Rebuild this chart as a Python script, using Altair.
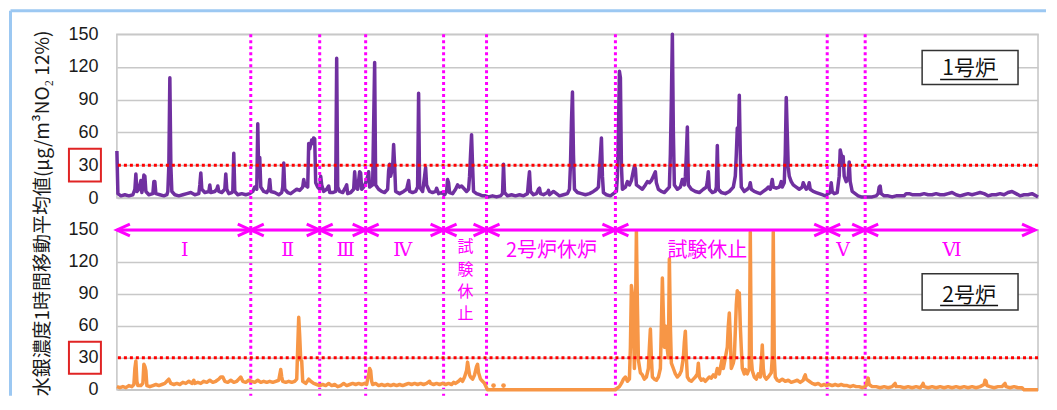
import altair as alt
import pandas as pd

# ---------------- data (time index t ~ day index, value in ug/m3N) ----------------
u1_points = [
    (0, 43), (1, 4), (4, 2), (8, 3), (12, 2), (16, 3), (18, 8), (19, 22), (20, 6), (22, 8), (24, 16), (25, 5),
    (26, 10), (27, 21), (28, 20), (29, 6), (32, 3), (36, 4), (37, 15), (38, 15), (39, 4), (43, 3), (47, 2),
    (50, 3), (51, 6), (52, 30), (53, 110), (54, 30), (55, 6), (58, 3), (62, 2), (66, 3), (70, 4), (74, 5),
    (78, 3), (82, 4), (83, 12), (84, 23), (85, 8), (88, 5), (92, 6), (93, 12), (94, 5), (98, 6), (100, 8),
    (101, 11), (102, 6), (105, 5), (108, 8), (109, 22), (110, 8), (112, 4), (115, 5), (116, 6), (117, 41),
    (118, 6), (121, 3), (125, 4), (129, 3), (133, 4),
    (136, 6), (138, 10), (140, 8), (141, 68), (142, 20), (143, 37), (144, 10), (147, 6), (150, 5), (152, 8),
    (153, 17), (154, 6), (158, 5), (162, 3), (165, 5), (166, 10), (167, 32), (168, 8), (171, 5), (174, 4),
    (177, 6), (180, 8), (183, 7), (186, 10), (187, 17), (188, 12), (191, 10), (192, 50), (193, 45), (195, 53),
    (196, 50), (197, 55), (198, 54), (199, 14), (201, 10), (203, 8),
    (204, 20), (205, 12), (207, 6), (210, 8), (212, 11), (213, 5), (216, 5), (219, 6), (220, 128), (221, 10),
    (223, 6), (226, 5), (229, 10), (230, 12), (231, 4), (234, 5), (237, 8), (238, 24), (239, 10), (241, 8),
    (243, 24), (244, 23), (245, 8), (247, 10), (249, 14),
    (251, 20), (252, 24), (253, 10), (256, 12), (258, 124), (259, 12), (262, 8), (265, 6), (268, 5), (271, 8),
    (272, 25), (273, 31), (274, 20), (276, 28), (277, 49), (278, 30), (279, 6), (283, 4), (287, 6), (290, 8),
    (292, 16), (293, 6), (296, 5), (299, 6), (301, 10), (302, 96), (303, 10), (306, 6), (308, 20), (309, 28),
    (310, 12), (313, 6), (316, 5), (319, 6), (320, 9), (322, 4), (325, 5),
    (328, 3), (330, 6), (331, 17), (332, 14), (333, 5), (336, 4), (339, 8), (341, 12), (343, 10), (345, 11),
    (348, 8), (350, 6), (352, 8), (353, 20), (354, 40), (355, 58), (356, 30), (357, 6), (360, 4), (363, 3),
    (366, 2), (369, 2),
    (372, 1), (376, 2), (380, 1), (384, 2), (386, 4), (387, 31), (388, 5), (391, 2), (395, 3), (399, 2),
    (403, 3), (407, 2), (411, 4), (412, 15), (413, 24), (414, 6), (417, 3), (420, 4), (422, 8), (423, 9),
    (424, 4), (427, 3), (431, 5), (432, 7), (433, 3), (437, 6), (440, 4), (443, 2), (447, 3), (451, 4),
    (453, 8), (454, 30), (455, 70), (456, 97), (457, 40), (458, 8), (461, 5), (465, 4), (469, 3), (473, 4),
    (477, 6), (480, 8), (482, 10), (483, 25), (484, 40), (485, 55), (486, 20), (487, 5), (490, 3), (494, 2),
    (497, 4),
    (500, 6), (501, 20), (502, 60), (503, 116), (504, 110), (505, 30), (506, 8), (509, 10), (511, 15),
    (513, 12), (515, 16), (517, 25), (518, 29), (519, 27), (520, 12), (523, 10), (526, 8), (529, 12),
    (531, 15), (533, 14), (535, 16), (537, 20), (539, 24), (540, 14), (542, 8), (545, 6), (548, 5), (551, 8),
    (553, 10), (554, 40), (555, 90), (556, 150), (557, 60), (558, 12), (561, 8), (564, 10), (566, 17),
    (568, 12), (569, 20), (570, 40), (571, 65), (572, 12), (575, 8), (579, 6), (583, 5), (587, 8), (590, 10),
    (591, 15), (592, 24), (593, 8), (596, 5), (599, 6), (600, 10), (601, 48), (602, 8), (605, 5), (609, 4),
    (613, 6), (617, 10), (619, 20), (620, 40), (621, 64), (622, 50), (623, 94), (624, 40), (625, 10),
    (628, 6), (631, 8), (633, 10), (634, 14), (635, 8), (638, 6), (641, 5), (644, 4), (647, 6), (650, 8),
    (652, 10), (654, 8), (655, 12), (656, 17), (657, 10), (660, 9), (663, 10), (664, 12), (665, 15),
    (666, 10), (668, 14), (669, 40), (670, 92), (671, 60), (672, 28), (673, 20), (675, 15), (677, 12),
    (680, 10), (683, 8), (686, 10), (687, 14), (688, 12), (690, 8), (692, 10), (693, 14), (694, 8), (697, 6),
    (700, 5), (703, 4), (706, 3), (709, 2),
    (712, 4), (714, 5), (715, 14), (716, 6), (718, 4), (721, 5), (723, 20), (724, 44), (725, 40), (726, 30),
    (727, 38), (728, 20), (730, 15), (732, 18), (733, 33), (734, 15), (736, 6), (739, 4), (742, 2), (745, 1),
    (748, 1),
    (752, 1), (756, 1), (760, 2), (762, 4), (763, 10), (764, 11), (765, 4), (768, 2), (772, 2), (776, 1),
    (780, 2), (784, 2), (788, 2), (790, 4), (793, 4), (796, 3), (800, 3), (804, 3), (808, 4), (812, 3),
    (816, 3), (820, 4), (824, 3), (828, 3), (832, 4), (836, 5), (840, 3), (844, 2), (848, 3), (852, 4),
    (856, 3), (860, 4), (864, 5), (868, 4), (872, 2), (876, 3), (880, 3), (884, 4), (888, 3), (892, 5),
    (896, 6), (900, 4), (904, 2), (908, 3), (912, 3), (916, 4), (920, 2), (922, 1),
]

u2_points = [
    (0, 3), (3, 2), (6, 3), (9, 2), (12, 4), (15, 3), (17, 5), (18, 20), (19, 27), (20, 8), (21, 4), (24, 4),
    (26, 6), (27, 24), (28, 22), (29, 18), (30, 4), (33, 3), (36, 4), (39, 5), (42, 4), (45, 5), (48, 6),
    (50, 8), (52, 10), (54, 6), (57, 5), (60, 6), (63, 5), (66, 7), (69, 6), (72, 8), (75, 6), (77, 9),
    (78, 6), (81, 7), (84, 6), (87, 8), (90, 7), (93, 9), (96, 7), (99, 8), (102, 10), (104, 12), (106, 12),
    (108, 8), (111, 7), (114, 9), (117, 7), (120, 8), (122, 10), (124, 12), (126, 8), (129, 7), (132, 9),
    (135, 8), (138, 7), (141, 9), (144, 7), (147, 8), (150, 7), (153, 8), (156, 7), (159, 8), (162, 9),
    (163, 14), (164, 19), (165, 12), (166, 8), (169, 7), (172, 8), (175, 7), (178, 8), (180, 10), (181, 40),
    (182, 68), (183, 50), (184, 28), (185, 27), (186, 8), (189, 6), (192, 10), (194, 8), (197, 6), (200, 5),
    (203, 4),
    (206, 5), (209, 4), (212, 6), (215, 4), (218, 5), (221, 3), (224, 4), (227, 6), (230, 4), (233, 5),
    (236, 6), (239, 5), (242, 6), (245, 5), (248, 6),
    (250, 5), (251, 10), (252, 14), (253, 20), (254, 18), (255, 8), (256, 5), (259, 6), (262, 4), (265, 5),
    (268, 4), (271, 5), (274, 4), (277, 5), (280, 4), (283, 5), (286, 4), (289, 5), (292, 6), (295, 5),
    (298, 6), (301, 5), (304, 6), (307, 5), (310, 6), (313, 8), (314, 6), (317, 5), (320, 6), (323, 5),
    (326, 6),
    (329, 5), (332, 6), (335, 5), (337, 7), (339, 6), (342, 8), (344, 10), (346, 8), (348, 12), (350, 18),
    (351, 26), (352, 20), (353, 14), (354, 12), (356, 10), (358, 14), (360, 22), (361, 24), (362, 16),
    (364, 10), (366, 8), (368, 6), (370, 2),
    (371, 0), (499, 0),
    (500, 1), (503, 3), (505, 6), (507, 10), (509, 12), (511, 8), (513, 10), (514, 40), (515, 98), (516, 90),
    (517, 60), (518, 20), (519, 60), (520, 149), (521, 80), (522, 28), (524, 16), (526, 14), (528, 10),
    (530, 12), (532, 20), (533, 40), (534, 57), (535, 30), (536, 12), (538, 10), (540, 9), (542, 12),
    (544, 20), (545, 60), (546, 105), (547, 70), (548, 40), (549, 60), (550, 45), (552, 30), (553, 123),
    (554, 60), (555, 25), (557, 20), (559, 15), (561, 12), (563, 14), (565, 18), (567, 30), (568, 45),
    (569, 55), (570, 30), (571, 12), (573, 9), (575, 8), (577, 10), (579, 12), (581, 15), (582, 25),
    (583, 12), (585, 9), (587, 10), (589, 8), (591, 10), (593, 12), (595, 11), (597, 14), (599, 12),
    (601, 20), (603, 15), (605, 25), (606, 30), (607, 20), (609, 30), (611, 40), (612, 60), (613, 72),
    (614, 50), (615, 20), (617, 25), (618, 30), (619, 55), (620, 80), (621, 93), (622, 88), (623, 91),
    (624, 60), (625, 39), (626, 20), (628, 15), (629, 19), (631, 15), (633, 20), (634, 148), (635, 30),
    (636, 18), (638, 12), (640, 10), (642, 15), (644, 12), (645, 25), (646, 42), (647, 20), (648, 13),
    (650, 10), (652, 12), (655, 16), (656, 30), (657, 148), (658, 30), (659, 12), (661, 9), (663, 8),
    (666, 10), (669, 8), (672, 9), (675, 7), (678, 8), (681, 9), (684, 7), (687, 9), (688, 12), (689, 14),
    (690, 10), (693, 8), (696, 6), (699, 5), (702, 6), (705, 4), (708, 5), (710, 4),
    (713, 5), (716, 4), (719, 5), (722, 4), (725, 5), (728, 4), (731, 4), (734, 3), (737, 4), (740, 3),
    (743, 3), (746, 2), (749, 3),
    (750, 4), (751, 8), (752, 11), (753, 5), (756, 3), (760, 3), (764, 2), (768, 3), (772, 2), (776, 3),
    (778, 5), (779, 6), (780, 3), (784, 3), (788, 2), (792, 3), (796, 2), (800, 3), (804, 2), (806, 4),
    (807, 6), (808, 3), (812, 2), (816, 3), (820, 2), (824, 3), (828, 2), (832, 3), (836, 2), (840, 3),
    (844, 2), (848, 3), (852, 2), (856, 3), (860, 2), (864, 3), (868, 5), (869, 9), (870, 8), (871, 4),
    (874, 3), (878, 2), (882, 3), (886, 3), (888, 5), (889, 6), (890, 3), (894, 2), (898, 3), (902, 2),
    (906, 2), (908, 0), (914, 0), (922, 0),
]
u2_dot_t = [377, 387]
u2_dot_v = [4, 4]

boundary_t = [134, 203, 249, 327, 370, 499, 711, 749]
arrow_start_t = [0, 134, 203, 249, 327, 370, 499, 711, 749]
arrow_end_t = [134, 203, 249, 327, 370, 499, 711, 749, 919]
roman_names = ["Ⅰ", "Ⅱ", "Ⅲ", "Ⅳ", "Ⅴ", "Ⅵ"]
roman_t = [68, 171, 229, 286, 727, 836]
phase_jp_names = ["2号炉休炉", "試験休止"]
phase_jp_t = [435, 591]
pause_chars = ["試", "験", "休", "止"]
pause_v = [141.5, 120.4, 99.3, 78.2]
pause_t = 349
phase_label_v = 139.5
arrow_v = 150
threshold_v = 30
y_ticks = [0, 30, 60, 90, 120, 150]
mark_tick_lo, mark_tick_hi = 15, 45

unit_names = ["1号炉", "2号炉"]
unit_box_t = [806, 902]
unit_box_v = [[135, 104], [109, 75]]
unit_text_t = 853
unit_text_v = [118, 88]
unit_line_t = [824, 882]
unit_line_v = [108.6, 79.2]

y_title = "水銀濃度1時間移動平均値(μg/m³NO₂ 12%)"

# ---------------- styling ----------------
PURPLE = "#7030a0"
ORANGE = "#f79646"
MAG = "#ff00ff"
RED = "#ff0000"
JP = "Noto Sans CJK JP"
W, H1, H2 = 922, 164, 160

xs = alt.Scale(domain=[0, 922], nice=False, zero=False)
ys = alt.Scale(domain=[0, 150], nice=False, zero=False)


def yaxis(title):
    if title:
        return alt.Axis(values=y_ticks, title=title, titleX=-74, titleY=179, titleAngle=270,
                        titleAlign="center", titleBaseline="middle")
    return alt.Axis(values=y_ticks, title=None)


def panel(points, color, idx, title):
    ax = yaxis(title)
    df = pd.DataFrame(points, columns=["t", "v"])
    line = alt.Chart(df).mark_line(color=color, strokeWidth=3.5, strokeJoin="round").encode(
        x=alt.X("t:Q", scale=xs, axis=None),
        y=alt.Y("v:Q", scale=ys, axis=ax),
    )
    thr = alt.Chart(pd.DataFrame({"v": [threshold_v]})).mark_rule(
        color=RED, strokeWidth=3, strokeDash=[3, 3]).encode(y=alt.Y("v:Q", scale=ys, axis=ax))
    tickbox = alt.Chart(pd.DataFrame({"v": [mark_tick_hi], "v2": [mark_tick_lo]})).mark_rect(
        fillOpacity=0, stroke="#e02424", strokeWidth=2).encode(
        x=alt.value(-48), x2=alt.value(-16),
        y=alt.Y("v:Q", scale=ys, axis=ax), y2="v2:Q")
    bx = pd.DataFrame({"t": [unit_box_t[0]], "t2": [unit_box_t[1]],
                       "v": [unit_box_v[idx][0]], "v2": [unit_box_v[idx][1]]})
    box = alt.Chart(bx).mark_rect(fill="white", stroke="#333333", strokeWidth=1.5).encode(
        x=alt.X("t:Q", scale=xs, axis=None), x2="t2:Q",
        y=alt.Y("v:Q", scale=ys, axis=ax), y2="v2:Q")
    txt = alt.Chart(pd.DataFrame({"t": [unit_text_t], "v": [unit_text_v[idx]],
                                  "name": [unit_names[idx]]})).mark_text(
        font=JP, fontSize=21, color="#111111", align="center", baseline="middle").encode(
        x=alt.X("t:Q", scale=xs, axis=None), y=alt.Y("v:Q", scale=ys, axis=ax), text="name:N")
    ul = alt.Chart(pd.DataFrame({"t": [unit_line_t[0]], "t2": [unit_line_t[1]],
                                 "v": [unit_line_v[idx]]})).mark_rule(
        color="#111111", strokeWidth=1.5).encode(
        x=alt.X("t:Q", scale=xs, axis=None), x2="t2:Q", y=alt.Y("v:Q", scale=ys, axis=ax))
    return line, thr, tickbox, box, txt, ul, ax


one = pd.DataFrame({"k": [0]})

# ---------- top panel ----------
l1, thr1, tb1, box1, txt1, ul1, ax1 = panel(u1_points, PURPLE, 0, y_title)
vlines = alt.Chart(pd.DataFrame({"t": boundary_t})).mark_rule(
    color=MAG, strokeWidth=3, strokeDash=[3, 3]).encode(
    x=alt.X("t:Q", scale=xs, axis=None), y=alt.value(0), y2=alt.value(362))
border_left = alt.Chart(one).mark_rule(color="#9cc8f2", strokeWidth=3).encode(
    x=alt.value(-106.5), y=alt.value(-23.5), y2=alt.value(362))
border_top = alt.Chart(one).mark_rule(color="#9cc8f2", strokeWidth=3).encode(
    x=alt.value(-106.5), x2=alt.value(930), y=alt.value(-23.5))

top = alt.layer(l1, thr1, tb1, box1, txt1, ul1, vlines, border_left, border_top).properties(
    width=W, height=H1)

# ---------- bottom panel ----------
l2, thr2, tb2, box2, txt2, ul2, ax2 = panel(u2_points, ORANGE, 1, None)
dots = alt.Chart(pd.DataFrame({"t": u2_dot_t, "v": u2_dot_v})).mark_circle(
    color=ORANGE, size=22, opacity=1).encode(
    x=alt.X("t:Q", scale=xs, axis=None), y=alt.Y("v:Q", scale=ys, axis=ax2))
adf = pd.DataFrame({"s": arrow_start_t, "e": arrow_end_t, "v": [arrow_v] * len(arrow_start_t)})
arrows = alt.Chart(adf).mark_rule(color=MAG, strokeWidth=3).encode(
    x=alt.X("s:Q", scale=xs, axis=None), x2="e:Q", y=alt.Y("v:Q", scale=ys, axis=ax2))
head_r = alt.Chart(adf).mark_point(shape="M-1,-0.45L0,0L-1,0.45", size=676, filled=False,
                                   stroke=MAG, strokeWidth=3, opacity=1).encode(
    x=alt.X("e:Q", scale=xs, axis=None), y=alt.Y("v:Q", scale=ys, axis=ax2))
head_l = alt.Chart(adf).mark_point(shape="M1,-0.45L0,0L1,0.45", size=676, filled=False,
                                   stroke=MAG, strokeWidth=3, opacity=1).encode(
    x=alt.X("s:Q", scale=xs, axis=None), y=alt.Y("v:Q", scale=ys, axis=ax2))

rdf = pd.DataFrame({"t": roman_t, "v": [phase_label_v] * len(roman_t), "name": roman_names})
roman = alt.Chart(rdf).mark_text(font="DejaVu Serif", fontSize=19, color=MAG, align="center",
                                 baseline="top").encode(
    x=alt.X("t:Q", scale=xs, axis=None), y=alt.Y("v:Q", scale=ys, axis=ax2), text="name:N")
jdf = pd.DataFrame({"t": phase_jp_t, "v": [phase_label_v] * len(phase_jp_t), "name": phase_jp_names})
jp_labels = alt.Chart(jdf).mark_text(font=JP, fontSize=20, color=MAG, align="center",
                                     baseline="top").encode(
    x=alt.X("t:Q", scale=xs, axis=None), y=alt.Y("v:Q", scale=ys, axis=ax2), text="name:N")
vdf = pd.DataFrame({"t": [pause_t] * len(pause_chars), "v": pause_v, "name": pause_chars})
pause_label = alt.Chart(vdf).mark_text(font=JP, fontSize=16, color=MAG, align="center",
                                       baseline="top").encode(
    x=alt.X("t:Q", scale=xs, axis=None), y=alt.Y("v:Q", scale=ys, axis=ax2), text="name:N")

bottom = alt.layer(l2, dots, thr2, tb2, box2, txt2, ul2, arrows, head_r, head_l,
                   roman, jp_labels, pause_label).properties(width=W, height=H2)

chart = alt.vconcat(top, bottom, spacing=32, bounds="flush").properties(
    padding={"left": 0, "top": 0, "right": 0, "bottom": 0}, background="white"
).configure_view(stroke="#c4c4c4", strokeWidth=1.5).configure_axis(
    grid=True, gridColor="#c8c8c8", gridWidth=1.5, domain=False, ticks=False, tickSize=0,
    labelFont="Liberation Sans", labelFontSize=18, labelColor="#1a1a1a", labelPadding=19,
    titleFont=JP, titleFontSize=19, titleColor="#1a1a1a", titleFontWeight="normal")

chart.save("out.html", embed_options={"renderer": "svg", "actions": False})
